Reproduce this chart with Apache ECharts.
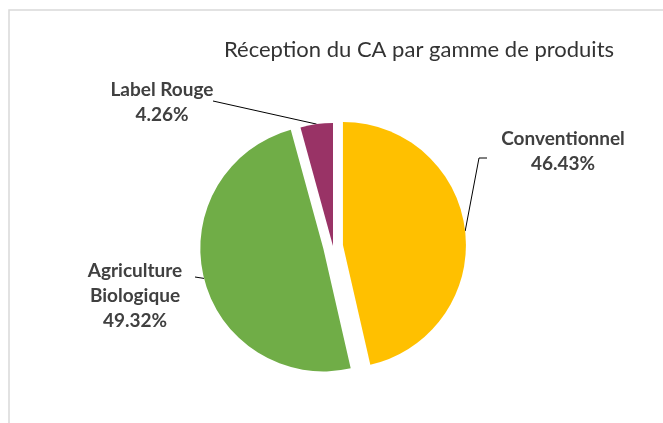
<!DOCTYPE html>
<html>
<head>
<meta charset="utf-8">
<script src="https://cdn.jsdelivr.net/npm/echarts@6/dist/echarts.min.js"></script>
<style>
  html, body { margin: 0; padding: 0; background: #fff; }
  #chart { width: 663px; height: 423px; }
</style>
</head>
<body>
<div id="chart"></div>
<script>
// data
const categories = ["Conventionnel", "Agriculture\nBiologique", "Label Rouge"];
const shares = [46.43, 49.32, 4.26];
const sliceColors = ["#FFC000", "#70AD47", "#993366"];
const exploded = [true, true, false];

// where each label block sits, and where the leader line meets it
const labelPlaces = [
  { x: 563, y: 151, line: [[479, 158], [487, 158]] },
  { x: 135, y: 296, line: [[195, 277]] },
  { x: 162, y: 102, line: [[213, 101]] }
];
const pieCenter = [333, 246];
const pieRadius = 123;
const explodeOffset = 10;

// shift of an exploded slice along its bisector
function sliceShift(i) {
  if (!exploded[i]) return [0, 0];
  let total = 0, before = 0;
  shares.forEach((v, j) => { total += v; if (j < i) before += v; });
  const mid = (before + shares[i] / 2) / total * Math.PI * 2;
  return [Math.sin(mid) * explodeOffset, -Math.cos(mid) * explodeOffset];
}

// one pie series per slice so each one can be pulled out on its own;
// every series carries the full data, only its own slice is painted
function sliceSeries(k) {
  const s = sliceShift(k);
  return {
    type: "pie",
    center: [pieCenter[0] + s[0], pieCenter[1] + s[1]],
    radius: pieRadius,
    startAngle: 90,
    clockwise: true,
    silent: true,
    label: {
      show: true,
      position: "outside",
      formatter: p => p.name + "\n" + p.value.toFixed(2) + "%",
      fontFamily: "Lato",
      fontWeight: "bold",
      fontSize: 19,
      lineHeight: 25,
      color: "#404040",
      align: "center"
    },
    labelLine: {
      show: true,
      lineStyle: { color: "#000000", width: 1 }
    },
    labelLayout: function (params) {
      if (params.dataIndex !== k || !params.labelLinePoints) return {};
      const place = labelPlaces[k];
      const start = params.labelLinePoints[0];
      return {
        x: place.x,
        y: place.y,
        align: "center",
        verticalAlign: "middle",
        labelLinePoints: [start].concat(place.line)
      };
    },
    data: categories.map((name, i) => {
      const mine = i === k;
      return {
        name: name,
        value: shares[i],
        itemStyle: { color: mine ? sliceColors[i] : "rgba(0,0,0,0)", borderWidth: 0 },
        label: { show: mine },
        labelLine: { show: mine }
      };
    })
  };
}

const chart = echarts.init(document.getElementById("chart"));
const option = {
  animation: false,
  title: {
    text: "Réception du CA par gamme de produits",
    left: 414,
    top: 34,
    textAlign: "center",
    textStyle: {
      fontFamily: "Lato",
      fontWeight: "normal",
      fontSize: 22,
      color: "#333333"
    }
  },
  graphic: [
    {
      type: "rect",
      shape: { x: 9, y: 10, width: 800, height: 600 },
      style: { fill: "none", stroke: "#D9D9D9", lineWidth: 1.5 },
      silent: true
    }
  ],
  series: categories.map((c, k) => sliceSeries(k))
};
chart.setOption(option);
</script>
</body>
</html>
